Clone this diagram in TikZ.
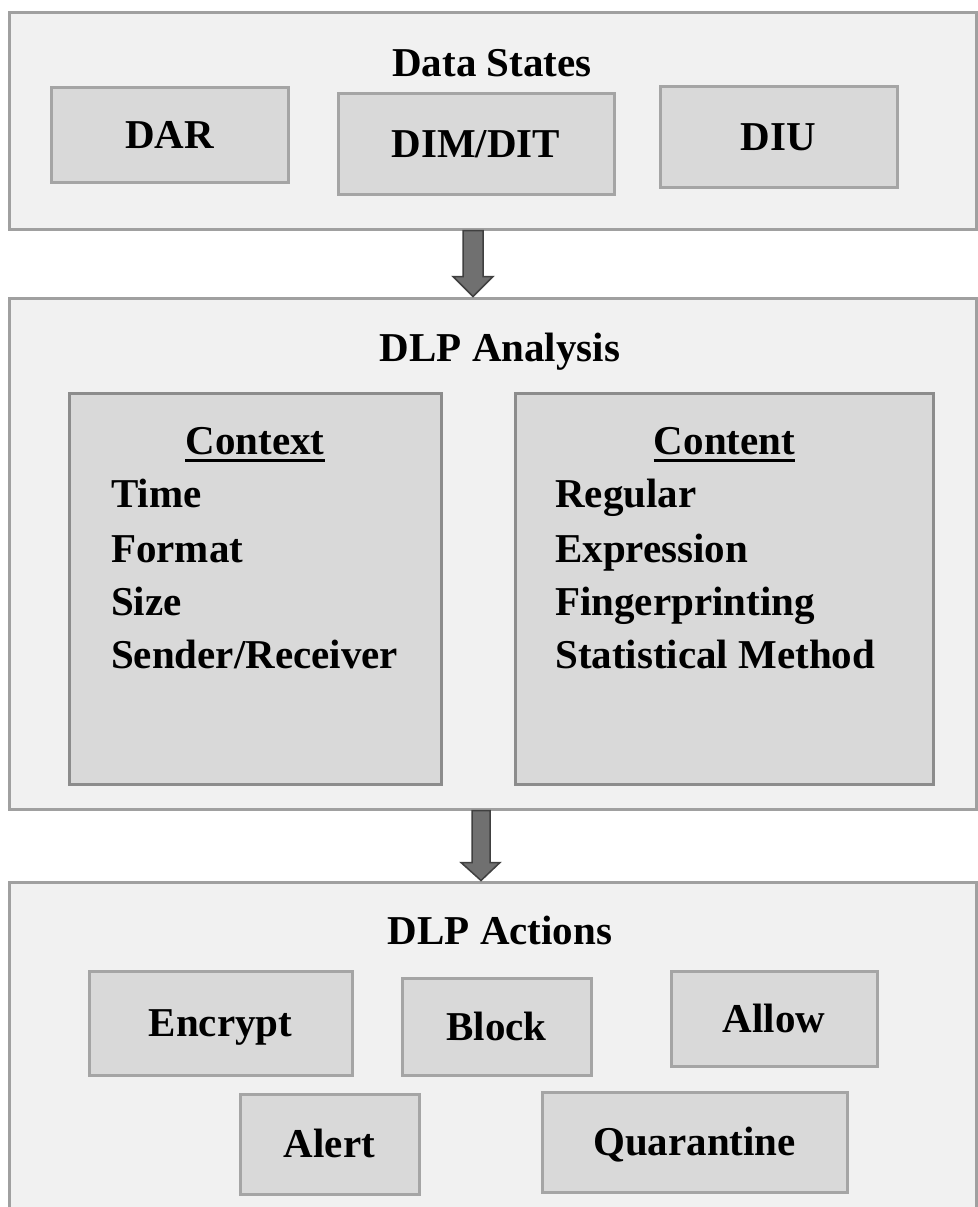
\documentclass[tikz,border=0pt]{standalone}
\usepackage{fontspec}
\setmainfont{Liberation Serif}
\definecolor{panelfill}{RGB}{241,241,241}
\definecolor{panelline}{RGB}{160,160,160}
\definecolor{itemfill}{RGB}{217,217,217}
\definecolor{itemline}{RGB}{165,165,165}
\definecolor{groupline}{RGB}{140,140,140}
\definecolor{flowfill}{RGB}{112,112,112}
\definecolor{flowline}{RGB}{64,64,64}
\tikzset{
  lbl/.style={font=\fontsize{41pt}{49pt}\selectfont\bfseries, text=black, inner sep=0pt},
  panel/.style={draw=panelline, fill=panelfill, line width=3pt, inner sep=0pt},
  item/.style={draw=itemline, fill=itemfill, line width=3pt, inner sep=0pt,
    lbl, text height=27pt, text depth=0pt},
  group/.style={draw=groupline, fill=itemfill, line width=3pt, inner sep=0pt},
  flow/.style={draw=flowline, fill=flowfill, line width=1.5pt, line join=miter},
}
\begin{document}
\begin{tikzpicture}[x=1pt, y=-1pt]
\useasboundingbox[fill=white] (0,0) rectangle (977,1207);

% three stage panels
\node[panel, minimum width=967pt, minimum height=216pt] (states) at (492.5,121) {};
\node[panel, minimum width=967pt, minimum height=511pt] (analysis) at (492.5,553.5) {};
\node[panel, minimum width=967pt, minimum height=348pt] (actions) at (492.5,1056) {};

% stage titles
\node[lbl, anchor=base] (statesT) at (492,77) {Data States};
\node[lbl, anchor=base] (analysisT) at (500,361) {DLP Analysis};
\node[lbl, anchor=base] (actionsT) at (500,944) {DLP Actions};

% data states
\node[item, minimum width=237pt, minimum height=95pt] (dar) at (169.5,134.5) {DAR};
\node[item, minimum width=276pt, minimum height=101pt] (dim) at (476,143.5) {DIM/DIT};
\node[item, minimum width=237pt, minimum height=101pt] (diu) at (778.5,136.5) {DIU};

% analysis groups
\node[group, minimum width=372pt, minimum height=391pt] (context) at (255,588.5) {};
\node[group, minimum width=418pt, minimum height=391pt] (content) at (724,588.5) {};

\node[lbl, anchor=base] (contextH) at (255,454) {Context};
\draw[line width=3pt] ([yshift=-6pt]contextH.base west) -- ([yshift=-6pt]contextH.base east);
\node[lbl, anchor=base west] (cx1) at (111,507) {Time};
\node[lbl, anchor=base west] (cx2) at (111,562) {Format};
\node[lbl, anchor=base west] (cx3) at (111,615) {Size};
\node[lbl, anchor=base west] (cx4) at (111,668) {Sender/Receiver};

\node[lbl, anchor=base] (contentH) at (724.5,454) {Content};
\draw[line width=3pt] ([yshift=-6pt]contentH.base west) -- ([yshift=-6pt]contentH.base east);
\node[lbl, anchor=base west] (cn1) at (555,507) {Regular};
\node[lbl, anchor=base west] (cn2) at (555,562) {Expression};
\node[lbl, anchor=base west] (cn3) at (555,615) {Fingerprinting};
\node[lbl, anchor=base west] (cn4) at (555,668) {Statistical Method};

% actions
\node[item, minimum width=263pt, minimum height=104pt] (encrypt) at (220.5,1023) {Encrypt};
\node[item, minimum width=189pt, minimum height=97pt] (block) at (496.5,1026.5) {Block};
\node[item, minimum width=206pt, minimum height=95pt] (allow) at (774,1018.5) {Allow};
\node[item, minimum width=179pt, minimum height=100pt] (alert) at (329.5,1144) {Alert};
\node[item, minimum width=305pt, minimum height=100pt] (quarantine) at (694.5,1142) {Quarantine};

% block arrows between the panels
\coordinate (f1s) at (473,0 |- states.south);
\coordinate (f1e) at (473,0 |- analysis.north);
\draw[flow] ([xshift=-10pt]f1s) -- ([xshift=-10pt,yshift=20pt]f1e)
  -- ([xshift=-20pt,yshift=20pt]f1e) -- (f1e)
  -- ([xshift=20pt,yshift=20pt]f1e) -- ([xshift=10pt,yshift=20pt]f1e)
  -- ([xshift=10pt]f1s) -- cycle;

\coordinate (f2s) at (481,0 |- analysis.south);
\coordinate (f2e) at (481,0 |- actions.north);
\draw[flow] ([xshift=-9pt]f2s) -- ([xshift=-9pt,yshift=18pt]f2e)
  -- ([xshift=-20pt,yshift=18pt]f2e) -- (f2e)
  -- ([xshift=19pt,yshift=18pt]f2e) -- ([xshift=9pt,yshift=18pt]f2e)
  -- ([xshift=9pt]f2s) -- cycle;
\end{tikzpicture}
\end{document}
